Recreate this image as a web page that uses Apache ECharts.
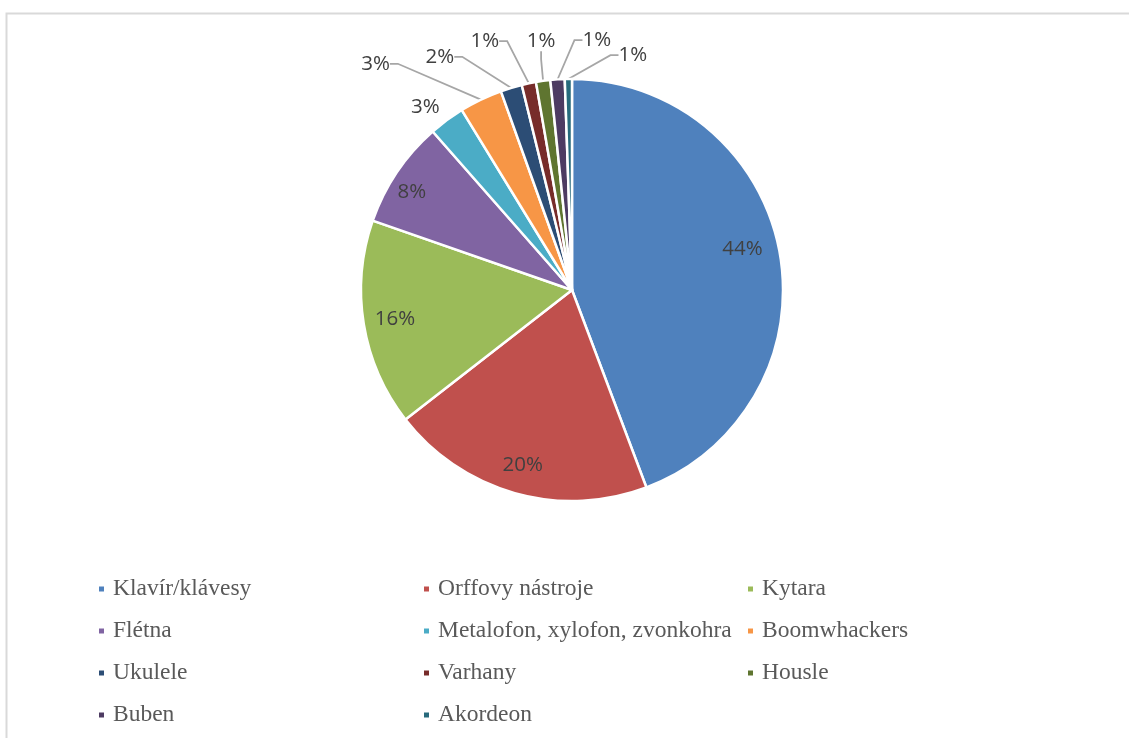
<!DOCTYPE html>
<html>
<head>
<meta charset="utf-8">
<script src="https://cdn.jsdelivr.net/npm/echarts@6/dist/echarts.min.js"></script>
<style>
html,body{margin:0;padding:0;background:#fff;}
#chart{width:1129px;height:738px;}
</style>
</head>
<body>
<div id="chart"></div>
<script>
// ---- data ----
const categories = ['Klavír/klávesy', 'Orffovy nástroje', 'Kytara', 'Flétna',
  'Metalofon, xylofon, zvonkohra', 'Boomwhackers', 'Ukulele', 'Varhany',
  'Housle', 'Buben', 'Akordeon'];
const values = [81, 37, 29, 15, 5, 6, 3, 2, 2, 2, 1];
const legendCol1 = ['Klavír/klávesy', 'Flétna', 'Ukulele', 'Buben'];
const legendCol2 = ['Orffovy nástroje', 'Metalofon, xylofon, zvonkohra', 'Varhany', 'Akordeon'];
const legendCol3 = ['Kytara', 'Boomwhackers', 'Housle'];

// ---- style ----
const palette = ['#4F81BD', '#C0504D', '#9BBB59', '#8064A2', '#4BACC6', '#F79646',
  '#2C4D75', '#772C2A', '#5F7530', '#4D3B62', '#276A7C'];
const CX = 572, CY = 290, R = 211;
// label placement: [angle offset from slice middle (deg), distance as fraction of radius, show leader line]
const labelPlace = [
  [-3, 0.83, false], [0, 0.86, false], [0, 0.85, false], [-2.5, 0.89, false],
  [-2.4, 1.11, false], [-15.4, 1.42, true], [-12.8, 1.27, true], [-7.5, 1.25, true],
  [0.8, 1.19, true], [9.6, 1.19, true], [15.5, 1.15, true]
];

const total = values.reduce((a, b) => a + b, 0);
const midAngles = [];
let cum = 0;
values.forEach(v => { midAngles.push((cum + v / 2) / total * 360); cum += v; });

const pieData = categories.map((name, i) => ({
  name: name,
  value: values[i],
  itemStyle: { color: palette[i] },
  labelLine: { show: labelPlace[i][2] }
}));

const legendBase = {
  orient: 'vertical',
  icon: 'rect',
  itemWidth: 7,
  itemHeight: 7,
  itemGap: 18,
  padding: 0,
  top: 577,
  textStyle: {
    fontFamily: 'Liberation Serif',
    fontSize: 23.5,
    lineHeight: 24,
    color: '#595959',
    padding: [0, 0, 0, 3]
  }
};

const chart = echarts.init(document.getElementById('chart'), null, { renderer: 'canvas' });
chart.setOption({
  backgroundColor: '#ffffff',
  animation: false,
  graphic: [{
    type: 'polyline',
    shape: { points: [[6.5, 738], [6.5, 13.5], [1129, 13.5]] },
    style: { stroke: '#d9d9d9', lineWidth: 2, fill: null },
    silent: true
  }],
  legend: [
    Object.assign({}, legendBase, { left: 97, data: legendCol1 }),
    Object.assign({}, legendBase, { left: 422, data: legendCol2 }),
    Object.assign({}, legendBase, { left: 746, data: legendCol3 })
  ],
  series: [{
    type: 'pie',
    center: [CX, CY],
    radius: [0, R],
    startAngle: 90,
    clockwise: true,
    avoidLabelOverlap: false,
    data: pieData,
    itemStyle: { borderColor: '#ffffff', borderWidth: 2.5 },
    label: {
      show: true,
      position: 'outside',
      formatter: p => Math.round(p.percent) + '%',
      fontFamily: 'Open Sans',
      fontSize: 20.5,
      color: '#404040'
    },
    labelLine: {
      length: 8,
      length2: 8,
      lineStyle: { color: '#a6a6a6', width: 1.8 }
    },
    labelLayout: function (params) {
      const i = params.dataIndex;
      const a = (midAngles[i] + labelPlace[i][0]) * Math.PI / 180;
      const d = labelPlace[i][1] * R;
      return {
        x: CX + d * Math.sin(a),
        y: CY - d * Math.cos(a),
        align: 'center',
        verticalAlign: 'middle'
      };
    },
    emphasis: { disabled: true }
  }]
});
</script>
</body>
</html>
